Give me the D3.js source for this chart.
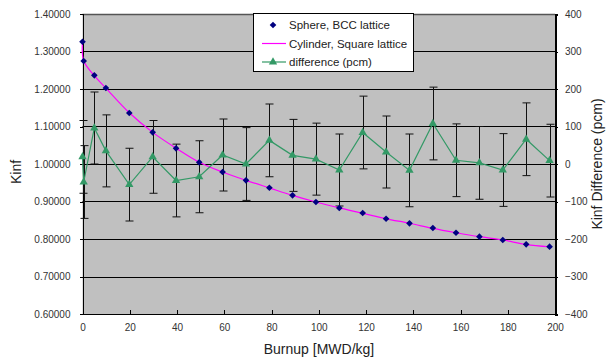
<!DOCTYPE html>
<meta charset="utf-8">
<style>
body { margin: 0; background: #fff; }
.axis text { font: 10px "Liberation Sans", Arial, sans-serif; fill: #333; }
.axis path, .axis line { fill: none; stroke: #000; shape-rendering: crispEdges; }
.title { font: 14px "Liberation Sans", Arial, sans-serif; fill: #222; }
.legend text { font: 11.5px "Liberation Sans", Arial, sans-serif; fill: #222; }
</style>
<body>
<script src="https://cdn.jsdelivr.net/npm/d3@7"></script>
<script>

// burnup points [MWD/kg]
var burnup = [0, 0.5, 5, 9.9, 19.8, 29.7, 39.6, 49.4, 59.3, 69.2, 79.1, 88.9,
              98.8, 108.7, 118.6, 128.5, 138.4, 148.3, 158.1, 168.0, 177.9, 187.8, 197.7];

// Kinf, sphere with BCC lattice
var sphere = [1.3260, 1.2747, 1.2365, 1.2027, 1.1360, 1.0845, 1.0418, 1.0045, 0.9787,
              0.9565, 0.9368, 0.9165, 0.8987, 0.8827, 0.8693, 0.8540, 0.8418, 0.8293,
              0.8168, 0.8062, 0.7973, 0.7858, 0.7795];

// Kinf, cylinder with square lattice
var cylinder = [1.3258, 1.2752, 1.2355, 1.2023, 1.1365, 1.0843, 1.0422, 1.0048, 0.9785,
                0.9565, 0.9362, 0.9163, 0.8986, 0.8829, 0.8685, 0.8537, 0.8420, 0.8282,
                0.8167, 0.8062, 0.7975, 0.7851, 0.7794];

// difference (pcm) and its error
var diff = [19, -48, 96, 35, -55, 19, -44, -34, 24, 0, 63, 23, 13, -16, 84, 32, -17,
            108, 10, 3, -16, 66, 9];
var diffErr = [97, 97, 96, 96, 97, 97, 97, 96, 96, 97, 97, 96, 96, 96, 97, 96, 97,
               97, 97, 97, 97, 97, 97];

var leftTicks = [0.6, 0.7, 0.8, 0.9, 1.0, 1.1, 1.2, 1.3, 1.4];
var rightTicks = [-400, -300, -200, -100, 0, 100, 200, 300, 400];
var xTicks = [0, 20, 40, 60, 80, 100, 120, 140, 160, 180, 200];

var legendLabels = ["Sphere, BCC lattice", "Cylinder, Square lattice", "difference (pcm)"];

var W = 608, H = 358;
var pl = 82.5, pr = 555, pt = 14, pb = 314;

var svg = d3.select("body").append("svg")
    .attr("width", W)
    .attr("height", H);

var x = d3.scaleLinear().domain([0, 200]).range([pl, pr]);
var yL = d3.scaleLinear().domain([0.6, 1.4]).range([pb, pt]);
var yR = d3.scaleLinear().domain([-400, 400]).range([pb, pt]);

// plot background
svg.append("rect")
    .attr("x", pl).attr("y", pt)
    .attr("width", pr - pl).attr("height", pb - pt)
    .attr("fill", "#c0c0c0");

// gridlines
svg.append("g")
    .selectAll("line")
    .data(leftTicks.slice(1))
    .enter().append("line")
    .attr("x1", pl).attr("x2", pr)
    .attr("y1", function(d) { return Math.round(yL(d)) + 0.5; })
    .attr("y2", function(d) { return Math.round(yL(d)) + 0.5; })
    .attr("stroke", function(d) { return d === 1.4 ? "#555" : "#000"; })
    .attr("stroke-width", function(d) { return d === 1.4 ? 1.5 : 1; });

// axes
svg.append("g")
    .attr("class", "axis")
    .attr("transform", "translate(" + pl + ",0)")
    .call(d3.axisLeft(yL).tickValues(leftTicks).tickFormat(d3.format(".5f")).tickSizeOuter(0).tickSize(3).tickPadding(9));

svg.append("g")
    .attr("class", "axis")
    .attr("transform", "translate(" + pr + ",0)")
    .call(d3.axisRight(yR).tickValues(rightTicks).tickSizeOuter(0).tickSize(3).tickPadding(7))
    .call(function(g) { g.select(".domain").attr("stroke", "#444").attr("stroke-width", 2); });

svg.append("g")
    .attr("class", "axis")
    .attr("transform", "translate(0," + pb + ")")
    .call(d3.axisBottom(x).tickValues(xTicks).tickSize(-4).tickSizeOuter(0).tickPadding(10));

// error bars
var eb = svg.append("g").attr("stroke", "#111").attr("stroke-width", 1);
burnup.forEach(function(b, i) {
  var cx = Math.round(x(b)) + 0.5;
  var y1 = yR(diff[i] + diffErr[i]), y2 = yR(diff[i] - diffErr[i]);
  eb.append("line").attr("x1", cx).attr("x2", cx).attr("y1", y1).attr("y2", y2);
  eb.append("line").attr("x1", cx - 4).attr("x2", cx + 4).attr("y1", y1).attr("y2", y1);
  eb.append("line").attr("x1", cx - 4).attr("x2", cx + 4).attr("y1", y2).attr("y2", y2);
});

// cylinder line
svg.append("path")
    .datum(cylinder)
    .attr("fill", "none")
    .attr("stroke", "#ff00ff")
    .attr("stroke-width", 1.2)
    .attr("d", d3.line()
        .x(function(d, i) { return x(burnup[i]); })
        .y(function(d) { return yL(d); })
        .curve(d3.curveCatmullRom));

// difference line
svg.append("path")
    .datum(diff)
    .attr("fill", "none")
    .attr("stroke", "#339966")
    .attr("stroke-width", 1.2)
    .attr("d", d3.line()
        .x(function(d, i) { return x(burnup[i]); })
        .y(function(d) { return yR(d); }));

var tri = d3.symbol().type(d3.symbolTriangle).size(30);
var dia = d3.symbol().type(d3.symbolSquare).size(22);

svg.append("g")
    .selectAll("path")
    .data(diff)
    .enter().append("path")
    .attr("d", tri)
    .attr("fill", "#339966")
    .attr("transform", function(d, i) { return "translate(" + x(burnup[i]) + "," + yR(d) + ")"; });

svg.append("g")
    .selectAll("path")
    .data(sphere)
    .enter().append("path")
    .attr("d", dia)
    .attr("fill", "#000080")
    .attr("transform", function(d, i) { return "translate(" + x(burnup[i]) + "," + yL(d) + ") rotate(45)"; });

// titles
svg.append("text")
    .attr("class", "title")
    .attr("x", 319).attr("y", 354)
    .attr("text-anchor", "middle")
    .text("Burnup [MWD/kg]");

svg.append("text")
    .attr("class", "title")
    .attr("transform", "translate(21,172) rotate(-90)")
    .attr("text-anchor", "middle")
    .text("Kinf");

svg.append("text")
    .attr("class", "title")
    .attr("transform", "translate(602,164) rotate(-90)")
    .attr("text-anchor", "middle")
    .text("Kinf Difference (pcm)");

// legend
var lg = svg.append("g").attr("class", "legend");
lg.append("rect")
    .attr("x", 253.5).attr("y", 13.5)
    .attr("width", 160).attr("height", 58)
    .attr("fill", "#fff").attr("stroke", "#000");

var ly = [25, 43.5, 62];
lg.append("path").attr("d", dia).attr("fill", "#000080")
    .attr("transform", "translate(273," + ly[0] + ") rotate(45)");
lg.append("line").attr("x1", 262).attr("x2", 286).attr("y1", ly[1]).attr("y2", ly[1])
    .attr("stroke", "#ff00ff").attr("stroke-width", 1.2);
lg.append("line").attr("x1", 262).attr("x2", 286).attr("y1", ly[2]).attr("y2", ly[2])
    .attr("stroke", "#339966").attr("stroke-width", 1.2);
lg.append("path").attr("d", tri).attr("fill", "#339966")
    .attr("transform", "translate(273," + ly[2] + ")");

lg.selectAll("text")
    .data(legendLabels)
    .enter().append("text")
    .attr("x", 289)
    .attr("y", function(d, i) { return ly[i]; })
    .attr("dy", "0.35em")
    .text(function(d) { return d; });

</script>
